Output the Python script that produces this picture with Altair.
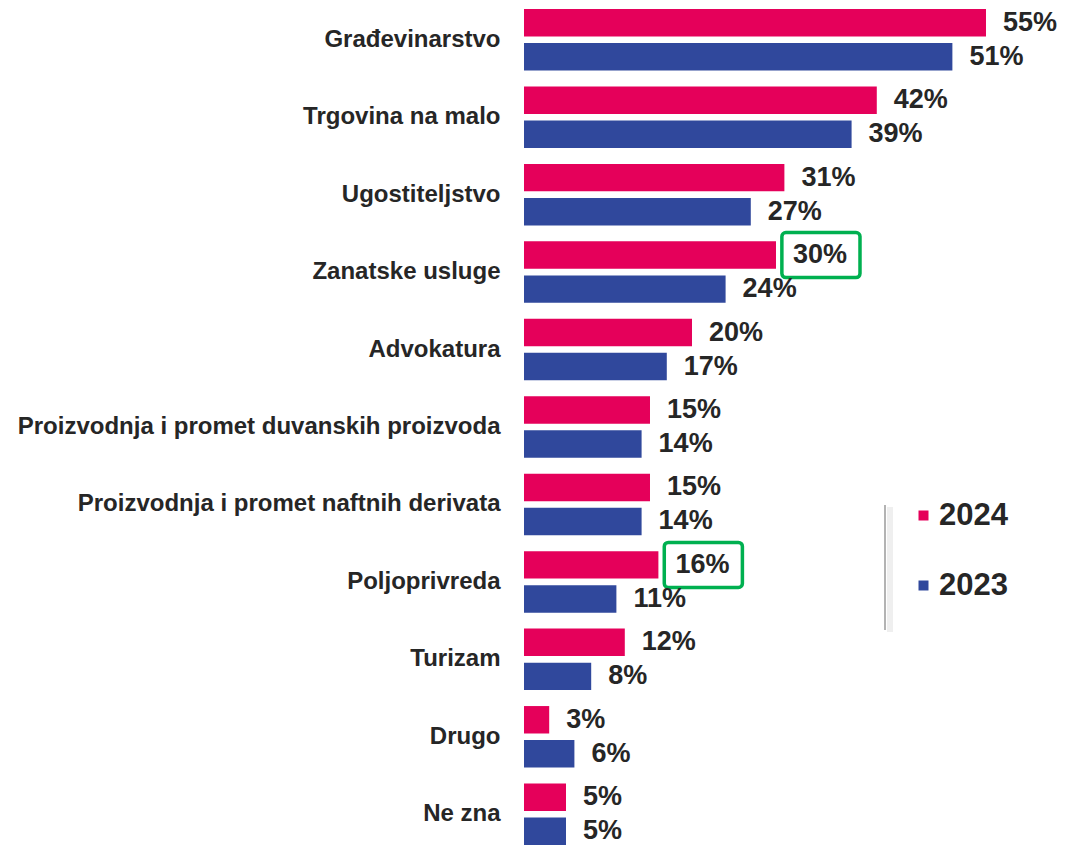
import altair as alt
import pandas as pd

categories = [
    "Građevinarstvo",
    "Trgovina na malo",
    "Ugostiteljstvo",
    "Zanatske usluge",
    "Advokatura",
    "Proizvodnja i promet duvanskih proizvoda",
    "Proizvodnja i promet naftnih derivata",
    "Poljoprivreda",
    "Turizam",
    "Drugo",
    "Ne zna",
]
values_2024 = [55, 42, 31, 30, 20, 15, 15, 16, 12, 3, 5]
values_2023 = [51, 39, 27, 24, 17, 14, 14, 11, 8, 6, 5]
years = ["2024", "2023"]
highlighted = ["Zanatske usluge", "Poljoprivreda"]  # 2024 values boxed in green

PINK = "#E5005A"
BLUE = "#30489C"
TEXT = "#262626"
GREEN = "#00B050"
FONT = "Liberation Sans"

rows = []
for c, a, b in zip(categories, values_2024, values_2023):
    rows.append({"category": c, "year": "2024", "value": a,
                 "hl": c in highlighted})
    rows.append({"category": c, "year": "2023", "value": b, "hl": False})
df = pd.DataFrame(rows)
df["label"] = df["value"].astype(str) + "%"

y_enc = alt.Y(
    "category:N", sort=categories,
    scale=alt.Scale(paddingInner=0.206, paddingOuter=0),
    axis=alt.Axis(title=None, domain=False, ticks=False, tickSize=0,
                  labelPadding=24, labelFontSize=24, labelFontWeight="bold",
                  labelColor=TEXT, labelFont=FONT, labelLimit=700),
)
yoff_enc = alt.YOffset(
    "year:N", sort=years,
    scale=alt.Scale(domain=years, paddingInner=0.194, paddingOuter=0),
)
x_scale = alt.Scale(domain=[0, 63.93], nice=False, zero=True)

base = alt.Chart(df)

bars = base.mark_bar().encode(
    x=alt.X("value:Q", scale=x_scale, axis=None),
    y=y_enc,
    yOffset=yoff_enc,
    color=alt.Color(
        "year:N",
        scale=alt.Scale(domain=years, range=[PINK, BLUE]),
        legend=alt.Legend(
            title=None, orient="none", legendX=384, legendY=491,
            symbolType="square", symbolSize=100, symbolStrokeWidth=0,
            labelFontSize=31, labelFontWeight="bold", labelColor=TEXT,
            labelFont=FONT, rowPadding=38, labelOffset=0, padding=0,
        ),
    ),
)

labels = base.mark_text(
    align="left", baseline="middle", dx=17, fontSize=27,
    fontWeight="bold", color=TEXT, font=FONT,
).encode(
    x=alt.X("value:Q", scale=x_scale, axis=None),
    y=y_enc,
    yOffset=yoff_enc,
    text="label:N",
)

boxes = base.transform_filter(alt.datum.hl).transform_calculate(
    lo="datum.value + 0.7", hi="datum.value + 10.0"
).mark_bar(
    fillOpacity=0, stroke=GREEN, strokeWidth=3.5, cornerRadius=4, height=45,
).encode(
    x=alt.X("lo:Q", scale=x_scale, axis=None),
    x2="hi:Q",
    y=y_enc,
    yOffset=yoff_enc,
)

sep = pd.DataFrame({"k": [0]})
shadow = alt.Chart(sep).mark_rule(color="#efefef", strokeWidth=6).encode(
    x=alt.value(366), y=alt.value(498), y2=alt.value(623)
)
rule = alt.Chart(sep).mark_rule(color="#9a9a9a", strokeWidth=1.5).encode(
    x=alt.value(361), y=alt.value(496), y2=alt.value(621)
)

chart = alt.layer(shadow, rule, bars, boxes, labels).properties(
    width=537, height=836,
    autosize=alt.AutoSizeParams(type="none"),
    padding={"left": 516, "top": 1, "right": 0, "bottom": 0},
).configure_view(stroke=None)

chart.save("out.html", embed_options={"renderer": "svg", "actions": False})
